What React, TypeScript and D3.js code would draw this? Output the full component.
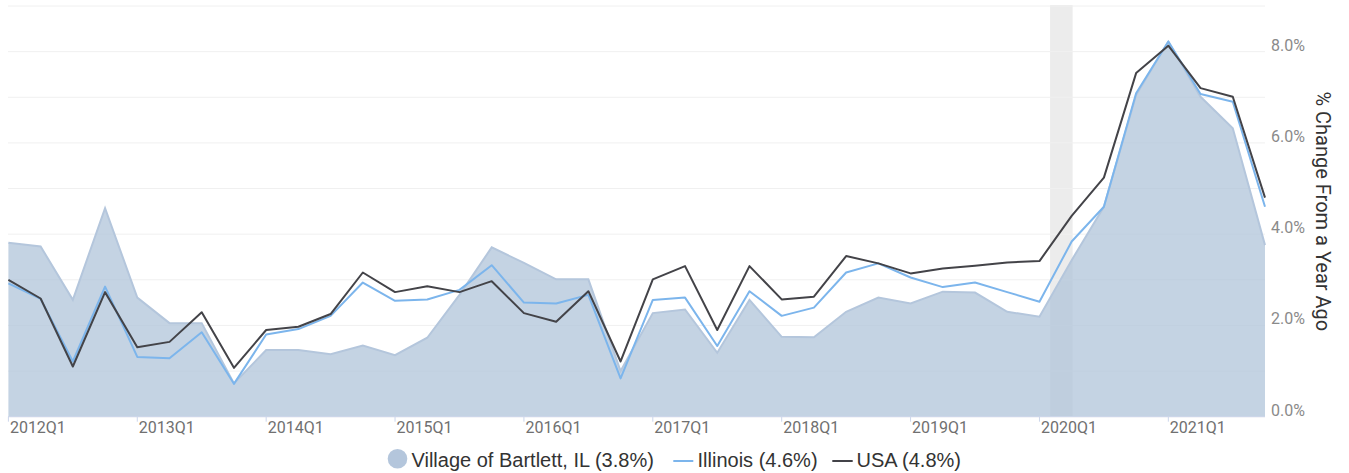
import React from "react";
import * as d3 from "d3";

const categories = [
  "2012Q1","2012Q2","2012Q3","2012Q4",
  "2013Q1","2013Q2","2013Q3","2013Q4",
  "2014Q1","2014Q2","2014Q3","2014Q4",
  "2015Q1","2015Q2","2015Q3","2015Q4",
  "2016Q1","2016Q2","2016Q3","2016Q4",
  "2017Q1","2017Q2","2017Q3","2017Q4",
  "2018Q1","2018Q2","2018Q3","2018Q4",
  "2019Q1","2019Q2","2019Q3","2019Q4",
  "2020Q1","2020Q2","2020Q3","2020Q4",
  "2021Q1","2021Q2","2021Q3","2021Q4",
];

const bartlett = [
  3.81, 3.73, 2.56, 4.57, 2.61, 2.05, 2.05, 0.73, 1.46, 1.46,
  1.37, 1.56, 1.35, 1.73, 2.67, 3.71, 3.37, 3.01, 3.01, 1.0,
  2.27, 2.35, 1.40, 2.56, 1.75, 1.74, 2.30, 2.61, 2.48, 2.74,
  2.72, 2.30, 2.19, 3.43, 4.60, 7.05, 8.22, 7.01, 6.32, 3.76,
];

const illinois = [
  2.92, 2.58, 1.21, 2.85, 1.31, 1.28, 1.85, 0.72, 1.80, 1.92,
  2.21, 2.94, 2.54, 2.57, 2.78, 3.32, 2.50, 2.48, 2.67, 0.84,
  2.56, 2.61, 1.55, 2.75, 2.21, 2.39, 3.16, 3.36, 3.05, 2.84,
  2.94, 2.73, 2.52, 3.84, 4.60, 7.09, 8.22, 7.07, 6.90, 4.60,
];

const usa = [
  3.00, 2.59, 1.10, 2.73, 1.52, 1.64, 2.29, 1.07, 1.90, 1.97,
  2.25, 3.16, 2.73, 2.86, 2.73, 2.97, 2.27, 2.08, 2.75, 1.21,
  3.01, 3.30, 1.90, 3.30, 2.57, 2.63, 3.52, 3.36, 3.14, 3.25,
  3.31, 3.38, 3.41, 4.40, 5.24, 7.53, 8.13, 7.20, 7.01, 4.80,
];

// recession expressed in quarter-index units (Feb 2020 – Apr 2020)
const recessions = [{ start: 32.33, end: 33.03 }];

const gridValues = [0, 1, 2, 3, 4, 5, 6, 7, 8, 9];
const yTickValues = [0, 2, 4, 6, 8];

const seriesNames = ["Village of Bartlett, IL (3.8%)", "Illinois (4.6%)", "USA (4.8%)"];

const W = 1349;
const H = 473;

export default function App() {
  const x = d3.scaleLinear().domain([0, categories.length - 1]).range([8.4, 1265]);
  const y = d3.scaleLinear().domain([0, 9]).range([416.7, 6]);

  const area = d3
    .area<number>()
    .x((_, i) => x(i))
    .y0(y(0))
    .y1((d) => y(d));
  const line = d3
    .line<number>()
    .x((_, i) => x(i))
    .y((d) => y(d));

  const q1Idx = categories.map((c, i) => ({ c, i })).filter((d) => d.c.endsWith("Q1"));

  const labelFont = "Roboto, 'Liberation Sans', Arial, sans-serif";

  return (
    <svg
      width={W}
      height={H}
      style={{ position: "absolute", left: 0, top: 0, background: "#fff" }}
    >
      {recessions.map((r, k) => (
        <rect
          key={k}
          x={x(r.start)}
          y={y(9) - 1}
          width={x(r.end) - x(r.start)}
          height={y(0) - y(9) + 1}
          fill="#ececec"
        />
      ))}
      {gridValues.map((v) => (
        <line
          key={v}
          x1={x(0) - 0.4}
          x2={x(categories.length - 1)}
          y1={y(v)}
          y2={y(v)}
          stroke="#f0f0f0"
          strokeWidth={1}
        />
      ))}
      <path d={area(bartlett) || ""} fill="#b0c3d9" fillOpacity={0.74} />
      <path d={line(bartlett) || ""} fill="none" stroke="#b4c6dc" strokeWidth={2} />
      <line x1={x(0) - 0.4} x2={x(categories.length - 1)} y1={y(0)} y2={y(0)} stroke="#ccd6eb" strokeWidth={1} />
      {q1Idx.map(({ c, i }) => (
        <g key={c}>
          <line x1={x(i)} x2={x(i)} y1={y(0)} y2={y(0) + 5} stroke="#ccd6eb" strokeWidth={1} />
          <text x={x(i) + 1.5} y={433} fontFamily={labelFont} fontSize={16} fill="#707070">
            {c}
          </text>
        </g>
      ))}
      <path d={line(illinois) || ""} fill="none" stroke="#7cb5ec" strokeWidth={2} strokeLinejoin="round" />
      <path d={line(usa) || ""} fill="none" stroke="#434348" strokeWidth={2} strokeLinejoin="round" />
      {yTickValues.map((v) => (
        <text key={v} x={1271} y={y(v) - 1} fontFamily={labelFont} fontSize={16} fill="#8a8a8a">
          {v.toFixed(1) + "%"}
        </text>
      ))}
      <text
        transform={`translate(1316, ${(y(0) + y(9)) / 2}) rotate(90)`}
        textAnchor="middle"
        fontFamily={labelFont}
        fontSize={20}
        fill="#333333"
      >
        % Change From a Year Ago
      </text>
      <g fontFamily="'Liberation Sans', Arial, sans-serif" fontSize={20} fill="#333333">
        <circle cx={397.5} cy={458.8} r={9.8} fill="#b4c6dc" />
        <text x={411.5} y={467}>{seriesNames[0]}</text>
        <line x1={673.3} x2={693.3} y1={461} y2={461} stroke="#7cb5ec" strokeWidth={2} />
        <text x={697.5} y={467}>{seriesNames[1]}</text>
        <line x1={832.3} x2={852.7} y1={461} y2={461} stroke="#434348" strokeWidth={2} />
        <text x={856.5} y={467}>{seriesNames[2]}</text>
      </g>
    </svg>
  );
}
